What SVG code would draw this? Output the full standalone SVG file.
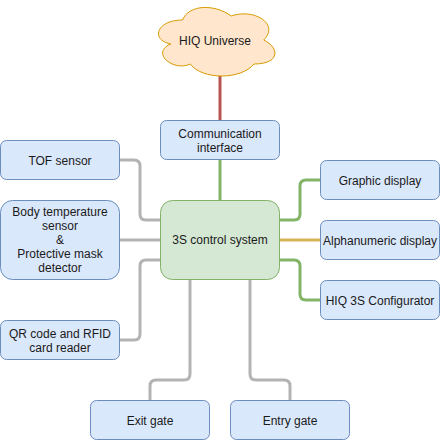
<svg xmlns="http://www.w3.org/2000/svg" width="441" height="442" viewBox="0 0 441 442">
<style>
.b{fill:#dae8fc;stroke:#6c8ebf;stroke-width:1}
.g{fill:#d5e8d4;stroke:#82b366;stroke-width:1}
.c{fill:#ffe6cc;stroke:#d79b00;stroke-width:1}
text{font-family:"Liberation Sans",Arial,sans-serif;font-size:12px;fill:#1a1a1a;text-anchor:middle}
.e{fill:none;stroke-width:3;stroke-linejoin:round}
.gr{stroke:#b3b3b3}
.gn{stroke:#82b366}
.rd{stroke:#b85450}
.yl{stroke:#d6b656}
</style>
<g id="connectors">
<path class="e rd" d="M220,76 L220,120"/>
<path class="e gn" d="M220,160 L220,200"/>
<path class="e gn" d="M280,220 L294,220 Q300,220 300,214 L300,186 Q300,180 306,180 L320,180"/>
<path class="e yl" d="M280,240 L320,240"/>
<path class="e gn" d="M280,260 L294,260 Q300,260 300,266 L300,294 Q300,300 306,300 L320,300"/>
<path class="e gr" d="M120,160 L134,160 Q140,160 140,166 L140,214 Q140,220 146,220 L160,220"/>
<path class="e gr" d="M120,240 L160,240"/>
<path class="e gr" d="M120,340 L134,340 Q140,340 140,334 L140,266 Q140,260 146,260 L160,260"/>
<path class="e gr" d="M190,280 L190,374 Q190,380 184,380 L156,380 Q150,380 150,386 L150,400"/>
<path class="e gr" d="M250,280 L250,374 Q250,380 256,380 L284,380 Q290,380 290,386 L290,400"/>
</g>
<g id="cloud">
<path class="c" d="M182.5,20 C156.5,20 150,40 170.8,44 C150,52.8 173.4,72 190.3,64 C202,80 241,80 254,64 C280,64 280,48 263.75,40 C280,24 254,8 231.25,16 C215,4 189,4 182.5,20 Z"/>
<text x="215" y="45">HIQ Universe</text>
</g>
<g id="comm">
<rect class="b" x="160.5" y="120.5" width="119" height="39" rx="6"/>
<text x="220" y="138">Communication</text>
<text x="220" y="152">interface</text>
</g>
<g id="control">
<rect class="g" x="160.5" y="200.5" width="119" height="79" rx="12"/>
<text x="220" y="244">3S control system</text>
</g>
<g id="graphic">
<rect class="b" x="320.5" y="160.5" width="119" height="39" rx="6"/>
<text x="380" y="185">Graphic display</text>
</g>
<g id="alpha">
<rect class="b" x="320.5" y="220.5" width="119" height="39" rx="6"/>
<text x="380" y="245">Alphanumeric display</text>
</g>
<g id="configurator">
<rect class="b" x="320.5" y="280.5" width="119" height="39" rx="6"/>
<text x="380" y="305">HIQ 3S Configurator</text>
</g>
<g id="tof">
<rect class="b" x="0.5" y="140.5" width="119" height="39" rx="6"/>
<text x="60" y="165">TOF sensor</text>
</g>
<g id="body">
<rect class="b" x="0.5" y="200.5" width="119" height="79" rx="12"/>
<text x="60" y="216">Body temperature</text>
<text x="60" y="230">sensor</text>
<text x="60" y="244">&amp;</text>
<text x="60" y="258">Protective mask</text>
<text x="60" y="272">detector</text>
</g>
<g id="qr">
<rect class="b" x="0.5" y="320.5" width="119" height="39" rx="6"/>
<text x="60" y="338">QR code and RFID</text>
<text x="60" y="352">card reader</text>
</g>
<g id="exit">
<rect class="b" x="90.5" y="400.5" width="119" height="39" rx="6"/>
<text x="150" y="425">Exit gate</text>
</g>
<g id="entry">
<rect class="b" x="230.5" y="400.5" width="119" height="39" rx="6"/>
<text x="290" y="425">Entry gate</text>
</g>
</svg>
